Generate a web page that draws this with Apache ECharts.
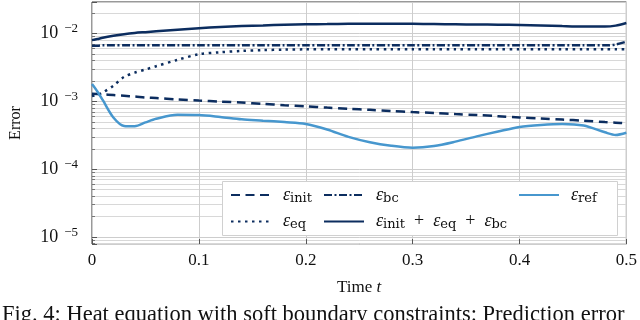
<!DOCTYPE html>
<html>
<head>
<meta charset="utf-8">
<script src="https://cdn.jsdelivr.net/npm/echarts@6/dist/echarts.min.js"></script>
<style>
  html, body { margin: 0; padding: 0; background: #fff; }
  #chart { width: 640px; height: 320px; }
</style>
</head>
<body>
<div id="chart"></div>
<script>
// time samples (x) and the error curves
const times = [0, 0.005, 0.01, 0.02, 0.03, 0.04, 0.05, 0.06, 0.08, 0.1, 0.12, 0.14, 0.16, 0.18, 0.2,
  0.22, 0.24, 0.26, 0.28, 0.3, 0.32, 0.34, 0.36, 0.38, 0.4, 0.42, 0.44, 0.46, 0.48, 0.49, 0.5]

const errInit = [1.3e-3, 1.29e-3, 1.27e-3, 1.24e-3, 1.21e-3, 1.18e-3, 1.14e-3, 1.12e-3, 1.07e-3, 1.03e-3,
  9.95e-4, 9.6e-4, 9.2e-4, 8.8e-4, 8.45e-4, 8.1e-4, 7.8e-4, 7.5e-4, 7.2e-4, 6.95e-4, 6.75e-4, 6.5e-4,
  6.3e-4, 6.05e-4, 5.8e-4, 5.6e-4, 5.4e-4, 5.2e-4, 4.95e-4, 4.85e-4, 4.75e-4]

const errBc = [6.6e-3, 6.6e-3, 6.7e-3, 6.7e-3, 6.7e-3, 6.7e-3, 6.7e-3, 6.7e-3, 6.7e-3, 6.7e-3,
  6.7e-3, 6.7e-3, 6.7e-3, 6.7e-3, 6.7e-3, 6.7e-3, 6.7e-3, 6.7e-3, 6.7e-3, 6.7e-3, 6.7e-3, 6.7e-3,
  6.7e-3, 6.7e-3, 6.7e-3, 6.7e-3, 6.7e-3, 6.7e-3, 6.7e-3, 6.9e-3, 7.6e-3]

const errEq = [1.2e-3, 1.25e-3, 1.35e-3, 1.7e-3, 2.3e-3, 2.65e-3, 2.95e-3, 3.3e-3, 4.1e-3, 4.95e-3,
  5.3e-3, 5.55e-3, 5.7e-3, 5.8e-3, 5.85e-3, 5.85e-3, 5.85e-3, 5.85e-3, 5.85e-3, 5.85e-3, 5.85e-3, 5.85e-3,
  5.85e-3, 5.85e-3, 5.85e-3, 5.85e-3, 5.85e-3, 5.85e-3, 5.85e-3, 5.85e-3, 5.9e-3]

const errSum = [8.0e-3, 8.3e-3, 8.7e-3, 9.3e-3, 9.8e-3, 1.02e-2, 1.05e-2, 1.08e-2, 1.14e-2, 1.2e-2,
  1.25e-2, 1.29e-2, 1.32e-2, 1.35e-2, 1.37e-2, 1.38e-2, 1.39e-2, 1.4e-2, 1.4e-2, 1.39e-2, 1.38e-2, 1.37e-2,
  1.36e-2, 1.35e-2, 1.34e-2, 1.32e-2, 1.29e-2, 1.27e-2, 1.27e-2, 1.31e-2, 1.43e-2]

const errRef = [1.8e-3, 1.4e-3, 1.05e-3, 5.8e-4, 4.35e-4, 4.3e-4, 4.9e-4, 5.55e-4, 6.35e-4, 6.3e-4,
  5.9e-4, 5.45e-4, 5.2e-4, 4.95e-4, 4.65e-4, 3.85e-4, 3.0e-4, 2.5e-4, 2.22e-4, 2.08e-4, 2.2e-4, 2.55e-4,
  3.05e-4, 3.6e-4, 4.2e-4, 4.5e-4, 4.65e-4, 4.4e-4, 3.5e-4, 3.2e-4, 3.45e-4]

const yMin = 7.9e-6
const yMax = 0.0292

const NAVY = '#0c2d5f'
const LIGHT = '#4797ce'
const SERIF = 'Liberation Serif'
const SUB = 'DejaVu Serif'

// minor ticks / grid lines at 2..9 x 10^k
const minorTicks = []
for (let k = -6; k <= -2; k++) {
  for (let m = 2; m <= 9; m++) {
    const v = m * Math.pow(10, k)
    if (v > yMin && v < yMax) minorTicks.push(v)
  }
}

function pairs(ys) {
  return times.map(function (t, i) { return [t, ys[i]] })
}

const legendLabels = {
  init: '{e|ε}{s|init}',
  bc: '{e|ε}{s|bc}',
  eq: '{e|ε}{s|eq}',
  sum: '{e|ε}{s|init}{p|+}{e|ε}{s|eq}{p|+}{e|ε}{s|bc}',
  ref: '{e|ε}{s|ref}'
}

const legendText = {
  padding: [0, 0, 0, 7],
  rich: {
    e: { fontFamily: SERIF, fontStyle: 'italic', fontSize: 18, lineHeight: 20, color: '#111' },
    s: { fontFamily: SUB, fontSize: 13, lineHeight: 13, verticalAlign: 'bottom', color: '#111' },
    p: { fontFamily: SERIF, fontSize: 18, lineHeight: 20, color: '#111', padding: [0, 9, 0, 9] }
  }
}

function makeLegend(names, left) {
  return {
    data: names, left: left, top: 186, orient: 'vertical',
    itemWidth: 40, itemHeight: 16, itemGap: 7.5, padding: 0,
    itemStyle: { opacity: 0 },
    formatter: function (n) { return legendLabels[n] },
    textStyle: legendText,
    selectedMode: false
  }
}

function line(name, ys, color, type, width) {
  return {
    name: name, type: 'line', data: pairs(ys),
    smooth: 0.3, symbol: 'none', z: 2,
    lineStyle: { color: color, width: width, type: type },
    itemStyle: { color: color }
  }
}

const chart = echarts.init(document.getElementById('chart'))
chart.setOption({
  animation: false,
  title: {
    text: 'Fig. 4: Heat equation with soft boundary constraints: Prediction error',
    left: 2, top: 304, padding: 0,
    textStyle: { fontFamily: SERIF, fontSize: 22.5, fontWeight: 'normal', color: '#111' }
  },
  grid: { left: 89, right: 12, top: 2, bottom: 76, show: true, borderColor: '#333', borderWidth: 1 },
  xAxis: {
    type: 'value', min: 0, max: 0.5, interval: 0.1,
    axisLine: { show: false },
    axisTick: { inside: true, length: 5, lineStyle: { color: '#555' } },
    splitLine: { lineStyle: { color: '#cdcdcd' } },
    axisLabel: { color: '#111', fontFamily: SERIF, fontSize: 17, margin: 8,
      formatter: function (v) { return String(v) } },
    name: '{n|Time }{i|t}', nameLocation: 'middle', nameGap: 35,
    nameTextStyle: { rich: {
      n: { fontFamily: SERIF, fontSize: 17, color: '#111' },
      i: { fontFamily: SERIF, fontStyle: 'italic', fontSize: 17, color: '#111' }
    } }
  },
  yAxis: [
    {
      type: 'log', logBase: 10, min: yMin, max: yMax,
      axisLine: { show: false },
      axisTick: { inside: true, length: 5, lineStyle: { color: '#555' } },
      splitLine: { lineStyle: { color: '#cdcdcd' } },
      axisLabel: {
        margin: 14,
        formatter: function (v) {
          const e = Math.log10(v)
          if (Math.abs(e - Math.round(e)) > 0.01) return ''
          return '{b|10}{t|−' + Math.abs(Math.round(e)) + '}'
        },
        rich: {
          b: { fontFamily: SERIF, fontSize: 18, lineHeight: 22, color: '#111' },
          t: { fontFamily: SERIF, fontSize: 13, lineHeight: 12, verticalAlign: 'top', color: '#111', padding: [0, 0, 0, 6] }
        }
      },
      name: 'Error', nameLocation: 'middle', nameGap: 68,
      nameTextStyle: { fontFamily: SERIF, fontSize: 16, color: '#111' }
    },
    {
      // second log axis on the same grid: only minor ticks and minor grid lines
      type: 'log', logBase: 10, min: yMin, max: yMax, position: 'left',
      axisLine: { show: false },
      axisLabel: { show: false },
      axisTick: { show: true, inside: true, length: 3, customValues: minorTicks, lineStyle: { color: '#777' } },
      splitLine: { show: true, lineStyle: { color: '#d8d8d8' } }
    }
  ],
  legend: [
    makeLegend(['init', 'eq'], 230),
    makeLegend(['bc', 'sum'], 323),
    makeLegend(['ref'], 518)
  ],
  graphic: [{
    type: 'rect', left: 222, top: 181, z: 3, silent: true,
    shape: { width: 395, height: 54 },
    style: { fill: '#fff', stroke: '#d0d0d0', lineWidth: 1 }
  }],
  series: [
    line('init', errInit, NAVY, [9, 5.5], 2.5),
    line('bc', errBc, NAVY, [8, 2.5, 2, 2.5], 2.5),
    line('eq', errEq, NAVY, [2.5, 4.5], 2.5),
    line('sum', errSum, NAVY, 'solid', 2.5),
    line('ref', errRef, LIGHT, 'solid', 2.5)
  ]
})
</script>
</body>
</html>
